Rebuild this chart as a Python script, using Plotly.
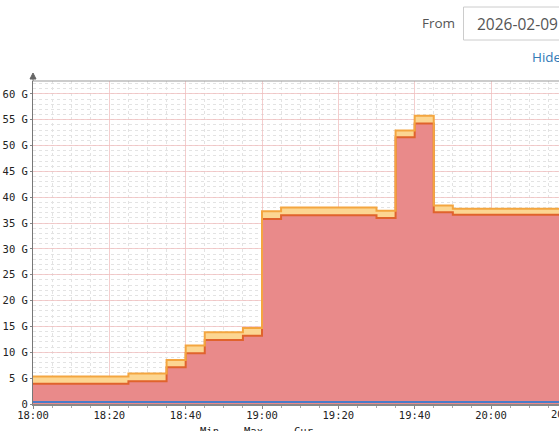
import plotly.graph_objects as go

# ---- data ----
times = ["2026-02-09 18:00", "2026-02-09 18:05", "2026-02-09 18:10", "2026-02-09 18:15",
         "2026-02-09 18:20", "2026-02-09 18:25", "2026-02-09 18:30", "2026-02-09 18:35",
         "2026-02-09 18:40", "2026-02-09 18:45", "2026-02-09 18:50", "2026-02-09 18:55",
         "2026-02-09 19:00", "2026-02-09 19:05", "2026-02-09 19:10", "2026-02-09 19:15",
         "2026-02-09 19:20", "2026-02-09 19:25", "2026-02-09 19:30", "2026-02-09 19:35",
         "2026-02-09 19:40", "2026-02-09 19:45", "2026-02-09 19:50", "2026-02-09 19:55",
         "2026-02-09 20:00", "2026-02-09 20:05", "2026-02-09 20:10", "2026-02-09 20:15",
         "2026-02-09 20:20"]
used_g = [3.9, 3.9, 3.9, 3.9, 3.9, 4.4, 4.4, 7.1, 9.8, 12.4, 12.4, 13.2,
          35.8, 36.5, 36.5, 36.5, 36.5, 36.5, 36.0, 51.6, 54.3, 37.1,
          36.6, 36.6, 36.6, 36.6, 36.6, 36.6, 36.6]
band_g = [1.4, 1.4, 1.4, 1.4, 1.4, 1.5, 1.5, 1.4, 1.5, 1.5, 1.5, 1.5,
          1.5, 1.5, 1.5, 1.5, 1.5, 1.5, 1.4, 1.3, 1.5, 1.3,
          1.2, 1.2, 1.2, 1.2, 1.2, 1.2, 1.2]
base_g = [0.4, 0.4, 0.4, 0.4, 0.4, 0.4, 0.4, 0.4, 0.4, 0.4, 0.4, 0.4,
          0.4, 0.4, 0.4, 0.4, 0.4, 0.4, 0.4, 0.4, 0.4, 0.4,
          0.4, 0.4, 0.4, 0.4, 0.4, 0.4, 0.4]
y_tickvals = [0, 5, 10, 15, 20, 25, 30, 35, 40, 45, 50, 55, 60]
y_ticktext = ["0", "5 G", "10 G", "15 G", "20 G", "25 G", "30 G", "35 G",
              "40 G", "45 G", "50 G", "55 G", "60 G"]
legend_heads = ["Min", "Max", "Cur"]

W, H = 559, 431
L, R, T, B = 33, 0, 81, 27
PW, PH = W - L - R, H - T - B
MONO = "DejaVu Sans Mono"


def px(x):
    return (x - L) / PW


def py(y):
    return (H - B - y) / PH


top_g = [u + b for u, b in zip(used_g, band_g)]

fig = go.Figure()
fig.add_trace(go.Scatter(
    x=times, y=used_g, mode="lines", line=dict(shape="hv", color="#e0632c", width=2),
    fill="tozeroy", fillcolor="rgb(233,138,138)", hoverinfo="skip", showlegend=False))
fig.add_trace(go.Scatter(
    x=times, y=top_g, mode="lines", line=dict(shape="hv", color="#f4a640", width=2),
    fill="tonexty", fillcolor="rgb(252,214,146)", hoverinfo="skip", showlegend=False))
fig.add_trace(go.Scatter(
    x=times, y=base_g, mode="lines", line=dict(shape="hv", color="#4a7cc8", width=2),
    hoverinfo="skip", showlegend=False))

fig.update_layout(
    width=W, height=H, autosize=False,
    margin=dict(l=L, r=R, t=T, b=B, pad=0),
    paper_bgcolor="white", plot_bgcolor="white",
    font=dict(family=MONO, size=10.5, color="#222"),
    xaxis=dict(
        type="date", range=["2026-02-09 18:00", "2026-02-09 20:17:49"],
        tick0="2026-02-09 18:00", dtick=20 * 60 * 1000, tickformat="%H:%M",
        showgrid=True, gridcolor="rgba(240,190,190,0.75)", gridwidth=1,
        ticks="outside", ticklen=3, tickcolor="#888", ticklabelstandoff=-3,
        showline=True, linecolor="#888", linewidth=2, zeroline=False,
        tickfont=dict(family=MONO, size=10.5, color="#222"),
        minor=dict(dtick=5 * 60 * 1000, showgrid=True, gridcolor="#e3e3e3",
                   griddash="dot", ticks="outside", ticklen=2, tickcolor="#aaa"),
        layer="below traces",
    ),
    yaxis=dict(
        range=[0, 62.5], tickvals=y_tickvals, ticktext=y_ticktext,
        showgrid=True, gridcolor="rgba(240,190,190,0.75)", gridwidth=1,
        ticks="outside", ticklen=2, tickcolor="#888",
        showline=True, linecolor="#777", linewidth=1, zeroline=False,
        tickfont=dict(family=MONO, size=10.5, color="#222"),
        minor=dict(dtick=1, showgrid=True, gridcolor="#e3e3e3", griddash="dot"),
        layer="below traces",
    ),
)

shapes = [
    # top border of the plot
    dict(type="line", xref="paper", yref="paper", x0=0, x1=1.2, y0=1, y1=1,
         line=dict(color="#999", width=1)),
    # y axis extension and arrow head
    dict(type="line", xref="paper", yref="paper", x0=0, x1=0, y0=1, y1=py(76),
         line=dict(color="#777", width=1)),
    dict(type="path", xref="paper", yref="paper",
         path=f"M {px(30)},{py(79)} L {px(36)},{py(79)} L {px(33)},{py(73)} Z",
         fillcolor="#666", line=dict(color="#666", width=1)),
    # date input box
    dict(type="rect", xref="paper", yref="paper", x0=px(463.5), x1=px(600),
         y0=py(40), y1=py(7), line=dict(color="#ccc", width=1), fillcolor="white"),
]
fig.update_layout(shapes=shapes)

ann = [
    dict(text="From", x=px(457), y=py(23), xanchor="right", yanchor="middle",
         font=dict(family="Open Sans", size=13.5, color="#555")),
    dict(text="2026-02-09", x=px(475), y=py(24), xanchor="left", yanchor="middle",
         font=dict(family="Open Sans", size=15.5, color="#555")),
    dict(text="Hide", x=px(530), y=py(57), xanchor="left", yanchor="middle",
         font=dict(family="Open Sans", size=13.5, color="#337ab7")),
    dict(text="20:20", x=px(567), y=py(414), xanchor="center", yanchor="middle",
         font=dict(family=MONO, size=10.5, color="#222")),
]
for name, xpos in zip(legend_heads, [198, 242, 292]):
    ann.append(dict(text=name, x=px(xpos), y=py(423), xanchor="left", yanchor="top",
                    font=dict(family=MONO, size=10.5, color="#222")))
for a in ann:
    a.setdefault("xref", "paper")
    a["yref"] = "paper"
    a["showarrow"] = False
fig.update_layout(annotations=ann)

fig.write_html(
    "out.html",
    config={"displayModeBar": False},
    post_script="document.body.style.margin='0';document.body.style.overflow='hidden';",
)
